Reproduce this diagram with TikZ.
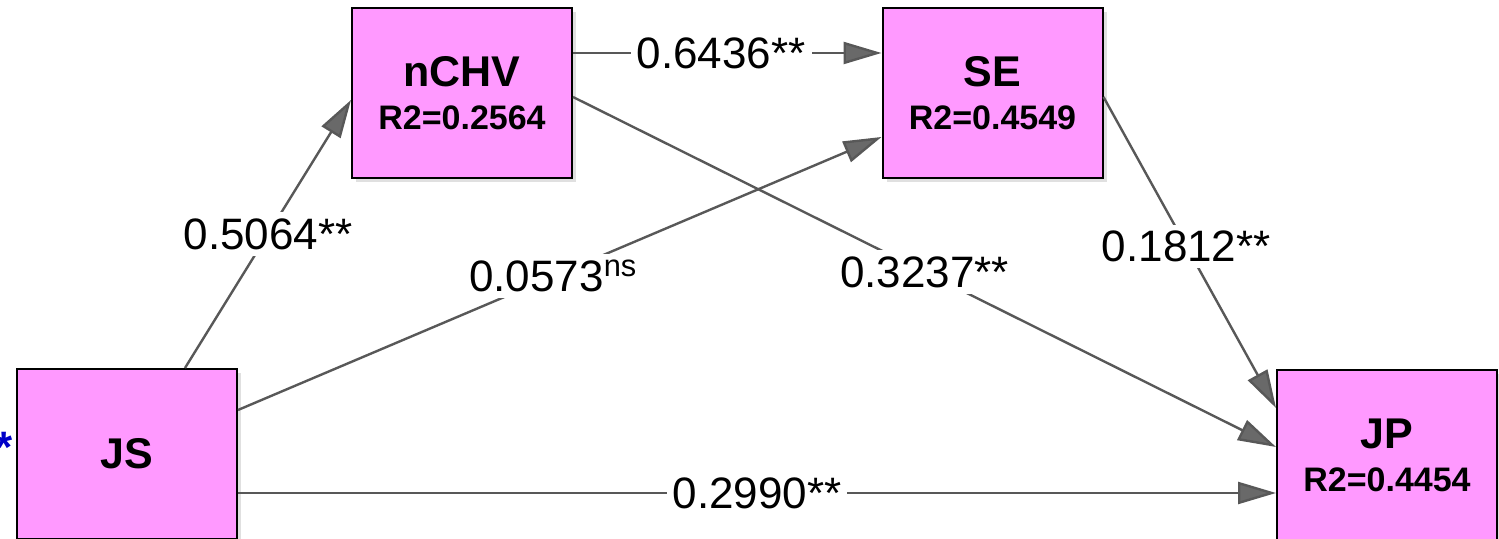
\documentclass[tikz,border=0pt]{standalone}
\usepackage{fontspec}
\setmainfont{Liberation Sans}
\usepackage{xcolor}
\usetikzlibrary{arrows.meta,shadows}
\definecolor{boxpink}{RGB}{255,153,255}
\definecolor{pathgray}{RGB}{88,88,88}
\definecolor{tipgray}{RGB}{105,105,105}
\definecolor{starblue}{RGB}{0,0,200}

\begin{document}
\begin{tikzpicture}[
  x=0.5pt,y=0.5pt,
  var/.style={draw=black,line width=1pt,fill=boxpink,minimum width=110pt,minimum height=85pt,align=center,
    font=\fontsize{17}{21.5}\selectfont\bfseries,
    drop shadow={shadow xshift=2pt,shadow yshift=-2pt,fill=black!12,opacity=1}},
  path/.style={draw=pathgray,line width=1.2pt,-{Triangle[length=19pt,width=11pt,fill=tipgray]}},
  coef/.style={midway,fill=white,inner sep=3pt,text=black,font=\fontsize{22}{24}\selectfont}]
\useasboundingbox (0,0) rectangle (1499,539);
\node[var] (nCHV) at (462,446) {{\fontsize{21.5}{21.5}\selectfont nCHV}\\R2=0.2564};
\node[var] (SE) at (992.5,446) {{\fontsize{21.5}{21.5}\selectfont SE}\\R2=0.4549};
\node[var] (JS) at (127,85) {{\fontsize{21.5}{21.5}\selectfont JS}};
\node[var] (JP) at (1387,84) {{\fontsize{21.5}{21.5}\selectfont JP}\\R2=0.4454};
\node[text=starblue,font=\fontsize{22}{24}\selectfont\bfseries,anchor=base,inner sep=0pt] (star) at (4,76) {*};
% paths
\draw[path] ([xshift=29pt]JS.north) -- ([yshift=-3.5pt]nCHV.west) node[coef] (c1) {0.5064**};
\draw[path] ([yshift=22pt]JS.east) -- ([yshift=-22pt]SE.west) node[coef,pos=0.49] (c2) {0.0573\textsuperscript{ns}};
\draw[path] ([yshift=20pt]nCHV.east) -- ([yshift=20pt]SE.west) node[coef,pos=0.48] (c3) {0.6436**};
\draw[path] ([yshift=-2pt]nCHV.east) -- ([yshift=4pt]JP.west) node[coef] (c4) {0.3237**};
\draw[path] ([yshift=-2pt]SE.east) -- ([yshift=23.5pt]JP.west) node[coef,pos=0.48] (c5) {0.1812**};
\draw[path] ([yshift=-19.5pt]JS.east) -- ([yshift=-19pt]JP.west) node[coef] (c6) {0.2990**};
\end{tikzpicture}
\end{document}
